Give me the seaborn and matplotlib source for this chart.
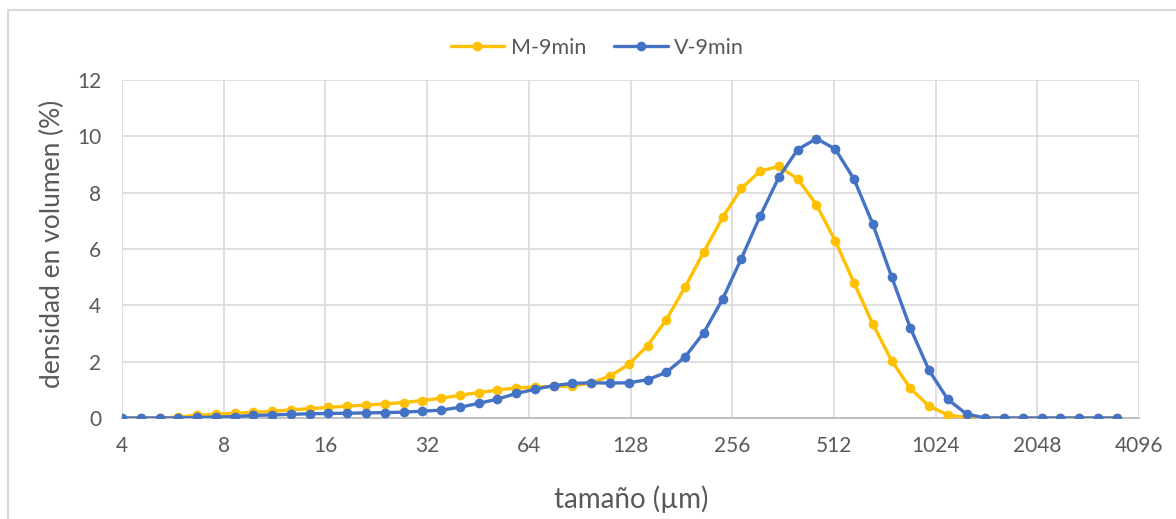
import numpy as np
import pandas as pd
import matplotlib
matplotlib.use("Agg")
import matplotlib.pyplot as plt
from matplotlib.patches import Rectangle
import seaborn as sns

# ---- data ----
sizes_um = [4.000, 4.546, 5.166, 5.871, 6.672, 7.583, 8.618, 9.794, 11.13, 12.65,
            14.38, 16.34, 18.57, 21.10, 23.98, 27.25, 30.97, 35.20, 40.00, 45.46,
            51.66, 58.71, 66.72, 75.83, 86.18, 97.94, 111.3, 126.5, 143.8, 163.4,
            185.7, 211.0, 239.8, 272.5, 309.7, 352.0, 400.0, 454.6, 516.6, 587.1,
            667.2, 758.3, 861.8, 979.4, 1113, 1265, 1438, 1634, 1857, 2110,
            2398, 2725, 3097, 3520]

m_9min = [0, 0, 0, 0.03, 0.10, 0.13, 0.17, 0.20, 0.24, 0.29,
          0.33, 0.38, 0.42, 0.46, 0.50, 0.55, 0.62, 0.70, 0.81, 0.90,
          0.99, 1.07, 1.10, 1.12, 1.14, 1.24, 1.49, 1.90, 2.57, 3.49,
          4.65, 5.90, 7.12, 8.15, 8.77, 8.93, 8.49, 7.57, 6.29, 4.80,
          3.34, 2.04, 1.05, 0.42, 0.11, 0.01, 0, 0, 0, 0,
          0, 0, 0, 0]

v_9min = [0, 0, 0, 0, 0.02, 0.03, 0.05, 0.09, 0.11, 0.13,
          0.15, 0.16, 0.17, 0.18, 0.19, 0.21, 0.24, 0.28, 0.38, 0.52,
          0.67, 0.87, 1.02, 1.15, 1.23, 1.25, 1.24, 1.25, 1.36, 1.62,
          2.17, 3.03, 4.22, 5.66, 7.17, 8.55, 9.53, 9.92, 9.55, 8.48,
          6.89, 5.02, 3.20, 1.69, 0.66, 0.14, 0, 0, 0, 0,
          0, 0, 0, 0]

series_names = ["M-9min", "V-9min"]
series_colors = ["#FFC000", "#4472C4"]
x_ticks = [4, 8, 16, 32, 64, 128, 256, 512, 1024, 2048, 4096]
y_ticks = [0, 2, 4, 6, 8, 10, 12]

df = pd.concat([
    pd.DataFrame({"size": sizes_um, "dens": m_9min, "serie": series_names[0]}),
    pd.DataFrame({"size": sizes_um, "dens": v_9min, "serie": series_names[1]}),
])

# ---- style ----
sns.set_style("white")
plt.rcParams["font.family"] = ["Lato", "DejaVu Sans"]
text_color = "#595959"

fig = plt.figure(figsize=(11.76, 5.19), dpi=100)
ax = fig.add_axes([122 / 1176, 1 - 418 / 519, (1139 - 122) / 1176, (418 - 80) / 519])

sns.lineplot(data=df, x="size", y="dens", hue="serie", hue_order=series_names,
             palette=series_colors, marker="o", markersize=7, markeredgewidth=0,
             linewidth=2.4, legend=False, ax=ax, zorder=3)

ax.set_xscale("log", base=2)
ax.set_xlim(4, 4096)
ax.set_ylim(0, 12)
ax.set_xticks(x_ticks)
ax.set_xticklabels([str(t) for t in x_ticks])
ax.set_yticks(y_ticks)
ax.set_yticklabels([str(t) for t in y_ticks])
ax.xaxis.set_minor_locator(matplotlib.ticker.NullLocator())

ax.grid(True, color="#d9d9d9", linewidth=1.2, zorder=0)
ax.set_axisbelow(True)
for s in ["top", "right", "left"]:
    ax.spines[s].set_visible(False)
ax.spines["bottom"].set_color("#bfbfbf")
ax.spines["bottom"].set_linewidth(1.4)
ax.spines["bottom"].set_zorder(1)

ax.tick_params(axis="both", length=0, labelsize=15, labelcolor=text_color)
ax.tick_params(axis="x", pad=13)
ax.tick_params(axis="y", pad=15)

ax.set_xlabel("tamaño (µm)", fontsize=20, color=text_color, va="center")
ax.xaxis.set_label_coords(0.501, -0.24)
ax.set_ylabel("densidad en volumen (%)", fontsize=19, color=text_color, va="center")
ax.yaxis.set_label_coords(-0.068, 0.515)

handles = ax.lines[:2]
leg = fig.legend(handles=handles, labels=series_names, loc="center",
                 bbox_to_anchor=(0.508, 1 - 48 / 519), bbox_transform=fig.transFigure,
                 ncol=2, frameon=False, fontsize=15.5, handlelength=2.5,
                 handletextpad=0.3, columnspacing=1.3)
for t in leg.get_texts():
    t.set_color(text_color)

fig.patches.append(Rectangle((8 / 1176, -0.1), 1.2, (519 - 10) / 519 + 0.1,
                             transform=fig.transFigure, fill=False,
                             edgecolor="#d9d9d9", linewidth=1.5))

fig.savefig("out.png", dpi=100)
